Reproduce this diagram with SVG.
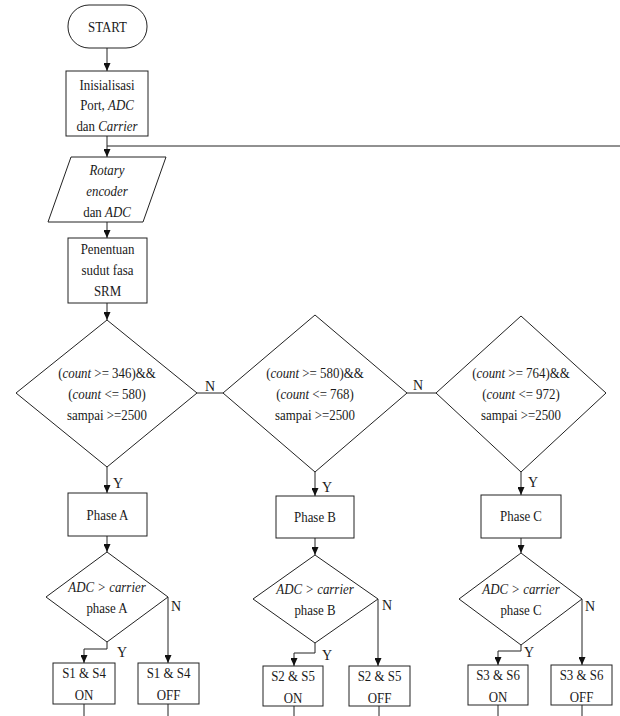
<svg xmlns="http://www.w3.org/2000/svg" width="620" height="716" viewBox="0 0 620 716">
<defs>
<marker id="ah" markerUnits="userSpaceOnUse" markerWidth="8" markerHeight="7" refX="8" refY="3.5" orient="auto">
<path d="M0,0 L8,3.5 L0,7 z" fill="#111"/>
</marker>
<style>
.s{fill:#fff;stroke:#222;stroke-width:1}
.t{font-family:'Liberation Serif','DejaVu Serif',serif;font-size:15px;fill:#1a1a1a;text-anchor:middle}
.l{font-family:'Liberation Serif','DejaVu Serif',serif;font-size:14px;fill:#1a1a1a}
.c{fill:none;stroke:#222;stroke-width:1}
.a{marker-end:url(#ah)}
</style>
</defs>
<rect width="620" height="716" fill="#fff"/>
<g id="connectors">
<path class="c a" d="M107,48 V71"/>
<path class="c a" d="M107,136 V157"/>
<path class="c" d="M620,146 H107"/>
<path class="c a" d="M107,222 V238"/>
<path class="c a" d="M107,303 V320"/>
<path class="c" d="M197,393 H223"/>
<path class="c" d="M407,393 H436"/>
<path class="c a" d="M107,467 V493"/>
<path class="c a" d="M315,472 V496"/>
<path class="c a" d="M521,472 V495"/>
<path class="c a" d="M107,536 V552"/>
<path class="c a" d="M315,538 V555"/>
<path class="c a" d="M521,538 V553"/>
<path class="c a" d="M107,642 V649 H84 V663"/>
<path class="c a" d="M168,597 V663"/>
<path class="c a" d="M315,643 V653 H294 V666"/>
<path class="c a" d="M378,599 V666"/>
<path class="c a" d="M521,645 V651 H498 V665"/>
<path class="c a" d="M582,599 V665"/>
<path class="c" d="M84,704 V716 M168,704 V716 M294,706 V716 M379,706 V716 M498,705 V716 M582,705 V716"/>
<text class="l" x="205" y="391">N</text>
<text class="l" x="413" y="390">N</text>
<text class="l" x="113" y="488">Y</text>
<text class="l" x="322" y="492">Y</text>
<text class="l" x="528" y="487">Y</text>
<text class="l" x="117" y="657">Y</text>
<text class="l" x="171" y="611">N</text>
<text class="l" x="322" y="660">Y</text>
<text class="l" x="382" y="610">N</text>
<text class="l" x="524" y="657">Y</text>
<text class="l" x="585" y="611">N</text>
</g>
<g id="start">
<rect class="s" x="68" y="5" width="79" height="43" rx="21" ry="21"/>
<g transform="matrix(0.86,0,0,1,15.05,0)"><text class="t" x="107.5" y="32">START</text></g>
</g>
<g id="init">
<rect class="s" x="66" y="71" width="82" height="65"/>
<g transform="matrix(0.86,0,0,1,14.98,0)">
<text class="t" x="107" y="90">Inisialisasi</text>
<text class="t" x="107" y="110.5">Port, <tspan font-style="italic">ADC</tspan></text>
<text class="t" x="107" y="131">dan <tspan font-style="italic">Carrier</tspan></text>
</g>
</g>
<g id="input">
<polygon class="s" points="71,157 166,157 143,222 48,222"/>
<g transform="matrix(0.86,0,0,1,14.98,0)">
<text class="t" x="107" y="175" font-style="italic">Rotary</text>
<text class="t" x="107" y="196" font-style="italic">encoder</text>
<text class="t" x="107" y="217">dan <tspan font-style="italic">ADC</tspan></text>
</g>
</g>
<g id="penentuan">
<rect class="s" x="68" y="238" width="79" height="65"/>
<g transform="matrix(0.86,0,0,1,15.05,0)">
<text class="t" x="107.5" y="254">Penentuan</text>
<text class="t" x="107.5" y="275">sudut fasa</text>
<text class="t" x="107.5" y="296">SRM</text>
</g>
</g>
<g id="decA">
<polygon class="s" points="107,320 197,393 107,467 16,393"/>
<g transform="matrix(0.86,0,0,1,14.98,0)">
<text class="t" x="107" y="378">(<tspan font-style="italic">count</tspan> &gt;= 346)&amp;&amp;</text>
<text class="t" x="107" y="399">(<tspan font-style="italic">count</tspan> &lt;= 580)</text>
<text class="t" x="107" y="420">sampai &gt;=2500</text>
</g>
</g>
<g id="decB">
<polygon class="s" points="315,315 407,393 315,472 223,393"/>
<g transform="matrix(0.86,0,0,1,44.1,0)">
<text class="t" x="315" y="378">(<tspan font-style="italic">count</tspan> &gt;= 580)&amp;&amp;</text>
<text class="t" x="315" y="399">(<tspan font-style="italic">count</tspan> &lt;= 768)</text>
<text class="t" x="315" y="420">sampai &gt;=2500</text>
</g>
</g>
<g id="decC">
<polygon class="s" points="521,316 606,393 521,472 436,393"/>
<g transform="matrix(0.86,0,0,1,72.94,0)">
<text class="t" x="521" y="378">(<tspan font-style="italic">count</tspan> &gt;= 764)&amp;&amp;</text>
<text class="t" x="521" y="399">(<tspan font-style="italic">count</tspan> &lt;= 972)</text>
<text class="t" x="521" y="420">sampai &gt;=2500</text>
</g>
</g>
<g id="phaseA">
<rect class="s" x="68" y="493" width="79" height="43"/>
<g transform="matrix(0.86,0,0,1,15.05,0)"><text class="t" x="107.5" y="520">Phase A</text></g>
</g>
<g id="phaseB">
<rect class="s" x="276" y="496" width="78" height="42"/>
<g transform="matrix(0.86,0,0,1,44.1,0)"><text class="t" x="315" y="522">Phase B</text></g>
</g>
<g id="phaseC">
<rect class="s" x="481" y="495" width="80" height="43"/>
<g transform="matrix(0.86,0,0,1,72.94,0)"><text class="t" x="521" y="521">Phase C</text></g>
</g>
<g id="cmpA">
<polygon class="s" points="107,552 168,597 107,642 46,597"/>
<g transform="matrix(0.86,0,0,1,14.98,0)">
<text class="t" x="107" y="592" font-style="italic">ADC &gt; carrier</text>
<text class="t" x="107" y="613">phase A</text>
</g>
</g>
<g id="cmpB">
<polygon class="s" points="315,555 378,599 315,643 253,599"/>
<g transform="matrix(0.86,0,0,1,44.1,0)">
<text class="t" x="315" y="594" font-style="italic">ADC &gt; carrier</text>
<text class="t" x="315" y="615">phase B</text>
</g>
</g>
<g id="cmpC">
<polygon class="s" points="521,553 582,599 521,645 459,599"/>
<g transform="matrix(0.86,0,0,1,72.94,0)">
<text class="t" x="521" y="594" font-style="italic">ADC &gt; carrier</text>
<text class="t" x="521" y="615">phase C</text>
</g>
</g>
<g id="s14on">
<rect class="s" x="53" y="663" width="62" height="41"/>
<g transform="matrix(0.86,0,0,1,11.76,0)">
<text class="t" x="84" y="678">S1 &amp; S4</text>
<text class="t" x="84" y="700">ON</text>
</g>
</g>
<g id="s14off">
<rect class="s" x="138" y="663" width="61" height="41"/>
<g transform="matrix(0.86,0,0,1,23.59,0)">
<text class="t" x="168.5" y="678">S1 &amp; S4</text>
<text class="t" x="168.5" y="700">OFF</text>
</g>
</g>
<g id="s25on">
<rect class="s" x="263" y="666" width="60" height="40"/>
<g transform="matrix(0.86,0,0,1,41.02,0)">
<text class="t" x="293" y="681">S2 &amp; S5</text>
<text class="t" x="293" y="703">ON</text>
</g>
</g>
<g id="s25off">
<rect class="s" x="349" y="666" width="61" height="40"/>
<g transform="matrix(0.86,0,0,1,53.13,0)">
<text class="t" x="379.5" y="681">S2 &amp; S5</text>
<text class="t" x="379.5" y="703">OFF</text>
</g>
</g>
<g id="s36on">
<rect class="s" x="468" y="665" width="60" height="40"/>
<g transform="matrix(0.86,0,0,1,69.72,0)">
<text class="t" x="498" y="680">S3 &amp; S6</text>
<text class="t" x="498" y="702">ON</text>
</g>
</g>
<g id="s36off">
<rect class="s" x="551" y="665" width="61" height="40"/>
<g transform="matrix(0.86,0,0,1,81.41,0)">
<text class="t" x="581.5" y="680">S3 &amp; S6</text>
<text class="t" x="581.5" y="702">OFF</text>
</g>
</g>
</svg>
